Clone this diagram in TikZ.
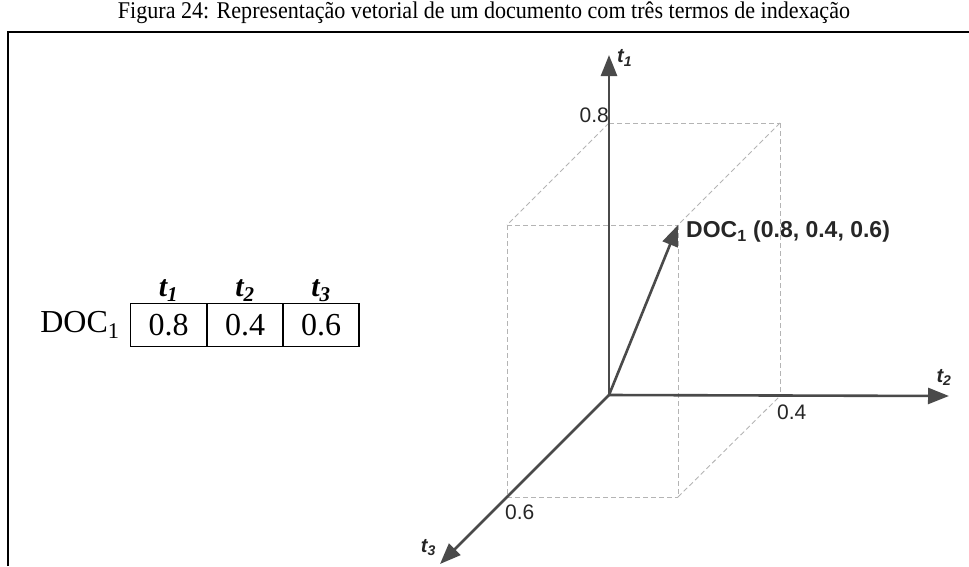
\documentclass[tikz,border=0pt]{standalone}
\usepackage{fontspec}
\setmainfont{Liberation Serif}
\setsansfont{Liberation Sans}
\usepackage{xcolor}
\usetikzlibrary{arrows.meta,positioning}
\definecolor{axisgray}{HTML}{4A4A4A}
\definecolor{boxgray}{HTML}{B4B4B4}

\begin{document}
\begin{tikzpicture}[x=1pt, y=-1pt,
 axis/.style={draw=axisgray, line width=2.6pt, -{Triangle[length=21pt,width=16pt]}},
 edge/.style={draw=boxgray, line width=0.9pt, dash pattern=on 5pt off 3pt},
 tick/.style={font=\fontsize{21}{24}\selectfont\sffamily, text=black!85, inner sep=0pt},
 axlabel/.style={font=\fontsize{20}{24}\selectfont\sffamily\bfseries\itshape, text=black!85, inner sep=0pt},
 cell/.style={draw, line width=1.3pt, minimum width=76pt, minimum height=43pt, inner sep=0pt, font=\fontsize{32}{36}\selectfont},
 head/.style={font=\fontsize{30}{34}\selectfont\bfseries\itshape, inner sep=1pt}]
\useasboundingbox (0,0) rectangle (969,566);

% Frame and caption
\coordinate (fb) at (8,566);
\coordinate (ft) at (8,32);
\coordinate (fr) at (969,32);
\draw[line width=2pt] (fb) -- (ft) -- (fr);
\node[font=\fontsize{24}{28}\selectfont] (title) at (484,13) {\scalebox{0.92}[1]{Figura 24: Representação vetorial de um documento com três termos de indexação}};

% Table
\node[cell] (c1) at (168.5,325) {0.8};
\node[cell] (c2) at (245,325) {0.4};
\node[cell] (c3) at (321,325) {0.6};
\node[head, above=0pt of c1] (h1) {t\textsubscript{1}};
\node[head, above=0pt of c2] (h2) {t\textsubscript{2}};
\node[head, above=0pt of c3] (h3) {t\textsubscript{3}};
\node[font=\fontsize{32}{36}\selectfont, inner sep=0pt, left=10pt of c1] (doc1) {DOC\textsubscript{1}};

% Points of the cube
\coordinate (O) at (609,395);
\coordinate (t1end) at (609,55);
\coordinate (t2end) at (949,396);
\coordinate (t3end) at (440,564);
\coordinate (a) at (609,123);   % 0.8 on t1
\coordinate (b) at (780,396);   % 0.4 on t2
\coordinate (c) at (507,497);   % 0.6 on t3
\coordinate (ab) at (780,123);
\coordinate (ac) at (507,225);
\coordinate (bc) at (678,497);
\coordinate (doc) at (678,225);

% Dashed edges
\foreach \p/\q in {a/ab, ab/b, a/ac, ab/doc, ac/doc, ac/c, doc/bc, c/bc, bc/b}
 \draw[edge] (\p) -- (\q);

% Axes
\draw[axis] (O) -- (t1end);
\draw[axis] (O) -- (t2end);
\draw[axis] (O) -- (t3end);
\draw[axis] (O) -- (doc);

% Labels
\node[tick, anchor=south east] (l1) at (a) {0.8};
\node[tick, below right=9pt and -3pt of b] (l2) {0.4};
\node[tick, below right=8pt and -2pt of c] (l3) {0.6};
\node[axlabel, right=8pt of t1end, yshift=-3pt] (n1) {t\textsubscript{1}};
\node[axlabel, above=10pt of t2end, xshift=-5pt] (n2) {t\textsubscript{2}};
\node[axlabel, above left=8pt and 4pt of t3end] (n3) {t\textsubscript{3}};
\node[font=\fontsize{23}{26}\selectfont\sffamily\bfseries, text=black!85, inner sep=0pt, right=8pt of doc, yshift=-7pt] (doclabel) {DOC\textsubscript{1} (0.8, 0.4, 0.6)};
\end{tikzpicture}
\end{document}
